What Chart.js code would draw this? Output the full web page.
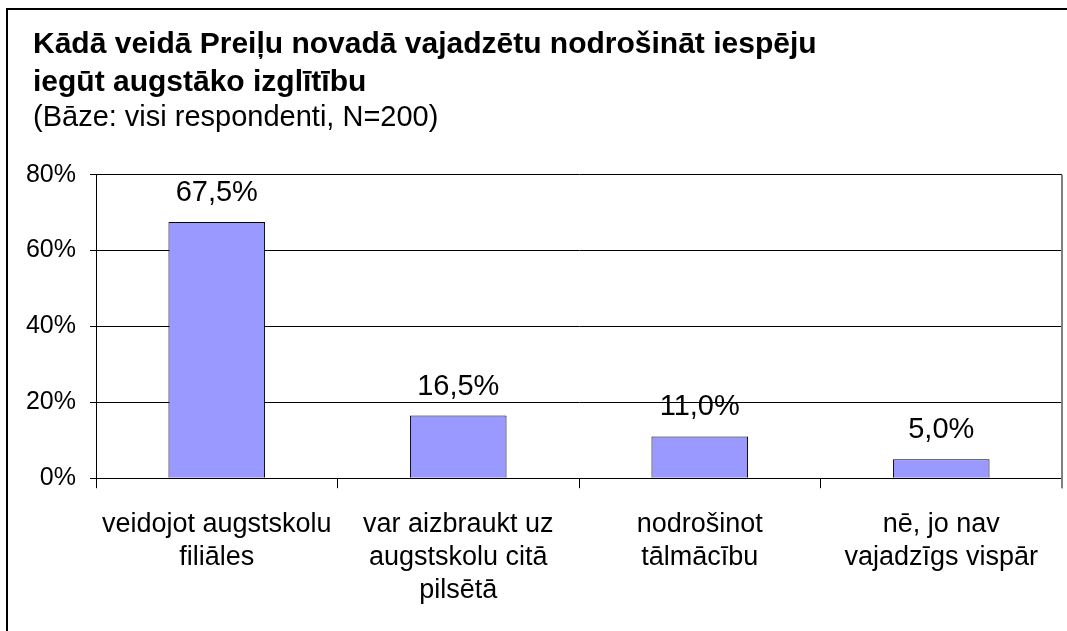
<!DOCTYPE html>
<html>
<head>
<meta charset="utf-8">
<script src="https://cdn.jsdelivr.net/npm/chart.js@4"></script>
<style>
  body { margin: 0; background: #fff; }
  #frame { position: absolute; left: 6px; top: 8px; width: 1070px; height: 640px; border-left: 2px solid #000; border-top: 2px solid #000; }
  #chart { position: absolute; left: 0; top: 0; }
</style>
</head>
<body>
<div id="frame"></div>
<canvas id="chart" width="1067" height="631"></canvas>
<script>
const titleLines = ["Kādā veidā Preiļu novadā vajadzētu nodrošināt iespēju", "iegūt augstāko izglītību"];
const subtitleText = "(Bāze: visi respondenti, N=200)";
const categories = [
  ["veidojot augstskolu", "filiāles"],
  ["var aizbraukt uz", "augstskolu citā", "pilsētā"],
  ["nodrošinot", "tālmācību"],
  ["nē, jo nav", "vajadzīgs vispār"]
];
const values = [67.5, 16.5, 11.0, 5.0];
const yMax = 80;
const yStep = 20;

const FONT = '"Liberation Sans", Arial, sans-serif';
const TITLE_X = 33;

const fmt = (v) => v.toFixed(1).replace(".", ",") + "%";

// labels above bars
const barLabels = {
  id: "barLabels",
  afterDatasetsDraw(chart) {
    const ctx = chart.ctx;
    const meta = chart.getDatasetMeta(0);
    ctx.save();
    ctx.font = "29px " + FONT;
    ctx.fillStyle = "#000";
    ctx.textAlign = "center";
    ctx.textBaseline = "middle";
    meta.data.forEach((bar, i) => {
      ctx.fillText(fmt(values[i]), bar.x, bar.y - 29);
    });
    ctx.restore();
  }
};

// grey right edge of the plot area
const plotEdge = {
  id: "plotEdge",
  afterDraw(chart) {
    const { ctx, chartArea } = chart;
    ctx.save();
    ctx.strokeStyle = "#808080";
    ctx.lineWidth = 2;
    ctx.beginPath();
    ctx.moveTo(chartArea.right, chartArea.top);
    ctx.lineTo(chartArea.right, chartArea.bottom + 10);
    ctx.stroke();
    ctx.restore();
  }
};

// title/subtitle start a bit right of the y tick labels
const titleShift = {
  id: "titleShift",
  afterLayout(chart) {
    chart.boxes.forEach((b) => {
      if (b.options && b.options.align === "start" && b.options.text !== undefined) {
        const dx = TITLE_X - b.left;
        b.left += dx;
        b.right += dx;
      }
    });
  }
};

new Chart(document.getElementById("chart"), {
  type: "bar",
  data: {
    labels: categories,
    datasets: [{
      data: values,
      backgroundColor: "#9999FF",
      borderColor: "#000",
      borderWidth: 1,
      barPercentage: 0.4,
      categoryPercentage: 1
    }]
  },
  options: {
    responsive: false,
    animation: false,
    layout: { padding: { left: 20, right: 5, top: 0, bottom: 4 } },
    plugins: {
      legend: { display: false },
      tooltip: { enabled: false },
      title: {
        display: true,
        text: titleLines,
        align: "start",
        color: "#000",
        font: { family: FONT, size: 30, weight: "bold", lineHeight: 1.26 },
        padding: { top: 26, bottom: 0 }
      },
      subtitle: {
        display: true,
        text: subtitleText,
        align: "start",
        color: "#000",
        font: { family: FONT, size: 29, weight: "normal", lineHeight: 1.07 },
        padding: { top: 1, bottom: 41 }
      }
    },
    scales: {
      x: {
        grid: { offset: true, drawOnChartArea: false, color: "#000", tickLength: 10 },
        border: { color: "#000", width: 1 },
        ticks: { color: "#000", padding: 20, maxRotation: 0, font: { family: FONT, size: 27, lineHeight: 1.22 } }
      },
      y: {
        min: 0,
        max: yMax,
        afterFit(scale) { scale.width = 76; },
        grid: { color: "#000", tickLength: 6 },
        border: { color: "#000", width: 1 },
        ticks: {
          stepSize: yStep,
          color: "#000",
          padding: 14,
          font: { family: FONT, size: 25 },
          callback: (v) => v + "%"
        }
      }
    }
  },
  plugins: [barLabels, plotEdge, titleShift]
});
</script>
</body>
</html>
